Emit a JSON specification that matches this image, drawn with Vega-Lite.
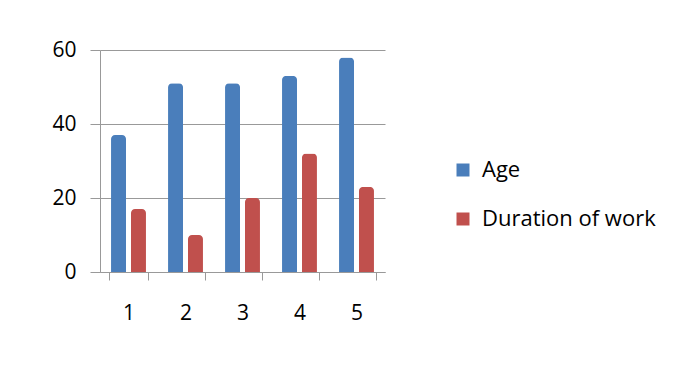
{
  "$schema": "https://vega.github.io/schema/vega-lite/v6.json",
  "autosize": "none",
  "width": 285,
  "height": 222,
  "padding": {"left": 100, "top": 50, "right": 294, "bottom": 100},
  "background": "white",
  "data": {
    "values": [
      {"cat": "1", "series": "Age", "value": 37},
      {"cat": "1", "series": "Duration of work", "value": 17},
      {"cat": "2", "series": "Age", "value": 51},
      {"cat": "2", "series": "Duration of work", "value": 10},
      {"cat": "3", "series": "Age", "value": 51},
      {"cat": "3", "series": "Duration of work", "value": 20},
      {"cat": "4", "series": "Age", "value": 53},
      {"cat": "4", "series": "Duration of work", "value": 32},
      {"cat": "5", "series": "Age", "value": 58},
      {"cat": "5", "series": "Duration of work", "value": 23}
    ]
  },
  "mark": {"type": "bar", "cornerRadiusEnd": 4, "width": 15},
  "encoding": {
    "x": {
      "field": "cat", "type": "nominal",
      "scale": {"paddingInner": 0.3, "paddingOuter": 0.15},
      "axis": {"title": null, "labelAngle": 0, "labelFontSize": 21, "labelFont": "Open Sans", "labelColor": "#000", "labelPadding": 22, "domainColor": "#999", "tickColor": "#999", "tickSize": 8, "tickBand": "extent"}
    },
    "xOffset": {"field": "series", "sort": ["Age", "Duration of work"]},
    "y": {
      "field": "value", "type": "quantitative",
      "scale": {"domain": [0, 60]},
      "axis": {"title": null, "values": [0, 20, 40, 60], "labelFontSize": 21, "labelFont": "Open Sans", "labelColor": "#000", "labelPadding": 14, "domainColor": "#999", "tickColor": "#999", "tickSize": 10, "gridColor": "#999", "gridWidth": 1.2}
    },
    "color": {
      "field": "series", "type": "nominal",
      "scale": {"domain": ["Age", "Duration of work"], "range": ["#4a7ebb", "#c0504d"]},
      "legend": {"title": null, "orient": "none", "legendX": 352, "legendY": 109, "symbolType": "square", "symbolSize": 169, "symbolStrokeWidth": 0, "labelFontSize": 22, "labelFont": "Open Sans", "labelColor": "#000", "labelLimit": 400, "rowPadding": 27, "labelOffset": 8}
    }
  },
  "config": {"view": {"stroke": null}}
}
